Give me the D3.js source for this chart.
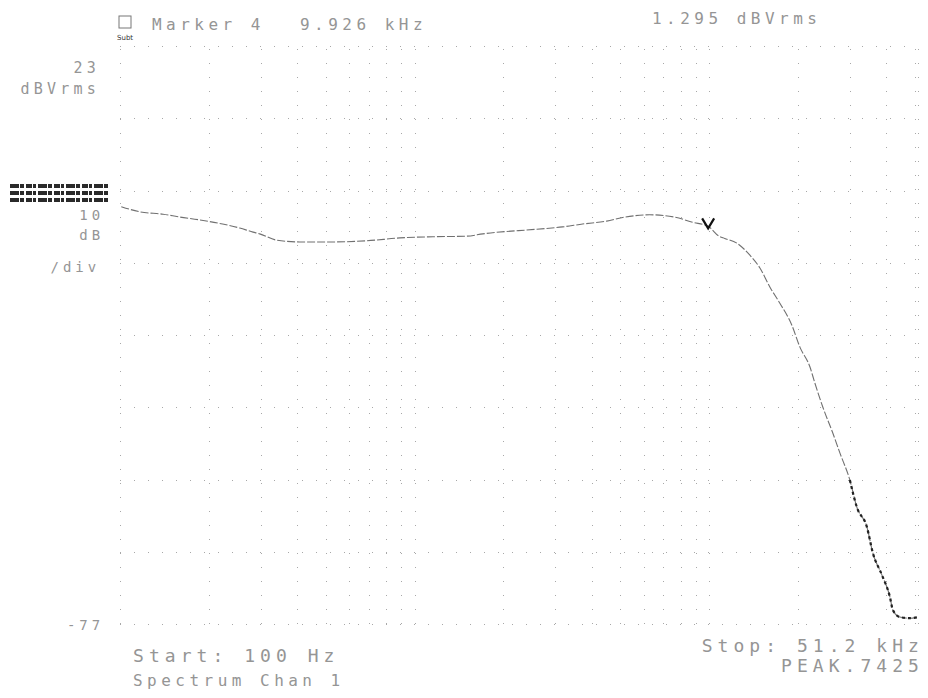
<!DOCTYPE html>
<html lang="en">
	<head>
		<meta charset="utf-8">
		<title>Spectrum Chan 1</title>
		<script type="text/javascript" src="https://cdn.jsdelivr.net/npm/d3@7"></script>
		<style type="text/css">
			body { margin: 0; background: #fff; }
			.lbl {
				font-family: "DejaVu Sans Mono", monospace;
				fill: #959595;
			}
			.grid line { stroke: #a8a8a8; stroke-dasharray: 1,13; shape-rendering: crispEdges; }
			.grid path { display: none; }
		</style>
	</head>
	<body>
		<script type="text/javascript">
			var w = 928, h = 698;

			// trace: frequency (Hz) and level (dBVrms)
			var freqHz = [101, 117, 140, 160, 187, 223, 255, 283, 298, 341, 408, 528, 689, 892,
				1155, 1508, 1706, 2600, 3180, 3720, 4490, 5180, 6280, 7630, 8790, 9926,
				10800, 11300, 12420, 13760, 14880, 16080, 17390, 19100, 20340, 21990, 22860,
				24340, 26320, 27800, 30060, 31750, 34330, 35970, 38600, 41100, 42070, 44430,
				48040, 51200];
			var magDb = [-4.8, -5.7, -6.1, -6.6, -7.1, -7.8, -8.5, -9.2, -9.5, -10.6, -10.9, -10.9,
				-10.7, -10.2, -10.0, -9.9, -9.5, -8.7, -8.3, -7.8, -7.3, -6.6, -6.2, -6.6, -7.5,
				-8.2, -9.9, -10.3, -11.1, -13.2, -15.4, -18.7, -21.5, -25.3, -29.1, -32.5, -35.3,
				-39.5, -44.0, -47.4, -52.1, -56.8, -60.2, -64.7, -68.5, -72.3, -74.6, -75.8,
				-76.0, -75.8];

			// graticule
			var gridFreqs = [200, 300, 400, 500, 600, 700, 800, 900, 1000, 2000, 3000, 4000,
				5000, 6000, 7000, 8000, 9000, 10000, 20000, 30000, 40000, 50000];
			var gridDb = [23, 10.5, -2, -14.5, -27, -39.5, -52, -64.5, -77];

			var markerHz = 9926;
			var markerText = ["Marker 4", "9.926 kHz"];
			var levelText = "1.295 dBVrms";
			var topLabel = ["23", "dBVrms"];
			var scaleLabel = ["10", "dB", "/div"];
			var bottomLabel = "-77";
			var startText = ["Start: 100 Hz", "Spectrum Chan 1"];
			var stopText = ["Stop: 51.2 kHz", "PEAK.7425"];

			var x = d3.scaleLog().domain([100, 51200]).range([120, 918]);
			var y = d3.scaleLinear().domain([23, -77]).range([46, 624]);

			var svg = d3.select("body").append("svg")
				.attr("width", w)
				.attr("height", h);

			// vertical grid
			svg.append("g")
				.attr("class", "grid")
				.attr("transform", "translate(0," + y(-77) + ")")
				.call(d3.axisBottom(x).tickValues(gridFreqs.concat([100, 51200]))
					.tickSize(-(y(-77) - y(23))).tickFormat(""));

			// horizontal grid
			svg.append("g")
				.attr("class", "grid")
				.attr("transform", "translate(" + x(100) + ",0)")
				.call(d3.axisLeft(y).tickValues(gridDb)
					.tickSize(-(x(51200) - x(100))).tickFormat(""));

			// trace
			var line = d3.line()
				.x(function(d) { return x(d[0]); })
				.y(function(d) { return y(d[1]); })
				.curve(d3.curveMonotoneX);
			var pts = d3.zip(freqHz, magDb);
			svg.append("path")
				.datum(pts)
				.attr("d", line)
				.attr("fill", "none")
				.attr("stroke", "#707070")
				.attr("stroke-width", 1.1)
				.attr("stroke-dasharray", "8,2");

			// heavier, noisy-looking bottom of the roll-off
			svg.append("path")
				.datum(pts.filter(function(d) { return d[0] > 30000; }))
				.attr("d", line)
				.attr("fill", "none")
				.attr("stroke", "#222")
				.attr("stroke-width", 2.2)
				.attr("stroke-dasharray", "3,3");

			// marker "V"
			var mi = freqHz.indexOf(markerHz);
			var mx = x(markerHz), my = y(magDb[mi]);
			svg.append("path")
				.attr("d", "M" + (mx - 6) + "," + (my - 8) + "L" + mx + "," + (my + 2) +
					"L" + (mx + 6) + "," + (my - 8))
				.attr("fill", "none")
				.attr("stroke", "#111")
				.attr("stroke-width", 2.2);

			function txt(s, tx, ty, size, anchor) {
				svg.append("text")
					.attr("class", "lbl")
					.attr("x", tx).attr("y", ty)
					.attr("font-size", size)
					.attr("letter-spacing", size * 0.28)
					.attr("text-anchor", anchor || "start")
					.text(s);
			}

			// header
			svg.append("rect").attr("x", 119).attr("y", 16).attr("width", 12).attr("height", 12)
				.attr("fill", "none").attr("stroke", "#777");
			svg.append("text").attr("x", 117).attr("y", 40).attr("font-size", 7)
				.attr("font-family", "DejaVu Sans").attr("fill", "#333").text("Subt");
			txt(markerText[0], 152, 30, 16);
			txt(markerText[1], 300, 30, 16);
			txt(levelText, 652, 24, 16);

			// left labels
			txt(topLabel[0], 100, 73, 15, "end");
			txt(topLabel[1], 100, 94, 15, "end");
			[186, 193, 200].forEach(function(yy) {
				svg.append("line").attr("x1", 10).attr("x2", 108).attr("y1", yy).attr("y2", yy)
					.attr("stroke", "#2a2a2a").attr("stroke-width", 4)
					.attr("stroke-dasharray", "9,1,4,2,6,1,3,2");
			});
			txt(scaleLabel[0], 104, 220, 14, "end");
			txt(scaleLabel[1], 104, 240, 14, "end");
			txt(scaleLabel[2], 100, 272, 14, "end");
			txt(bottomLabel, 104, 630, 14, "end");

			// footer
			txt(startText[0], 133, 662, 18);
			txt(startText[1], 133, 686, 16);
			txt(stopText[0], 924, 652, 18, "end");
			txt(stopText[1], 924, 672, 18, "end");
		</script>
	</body>
</html>
